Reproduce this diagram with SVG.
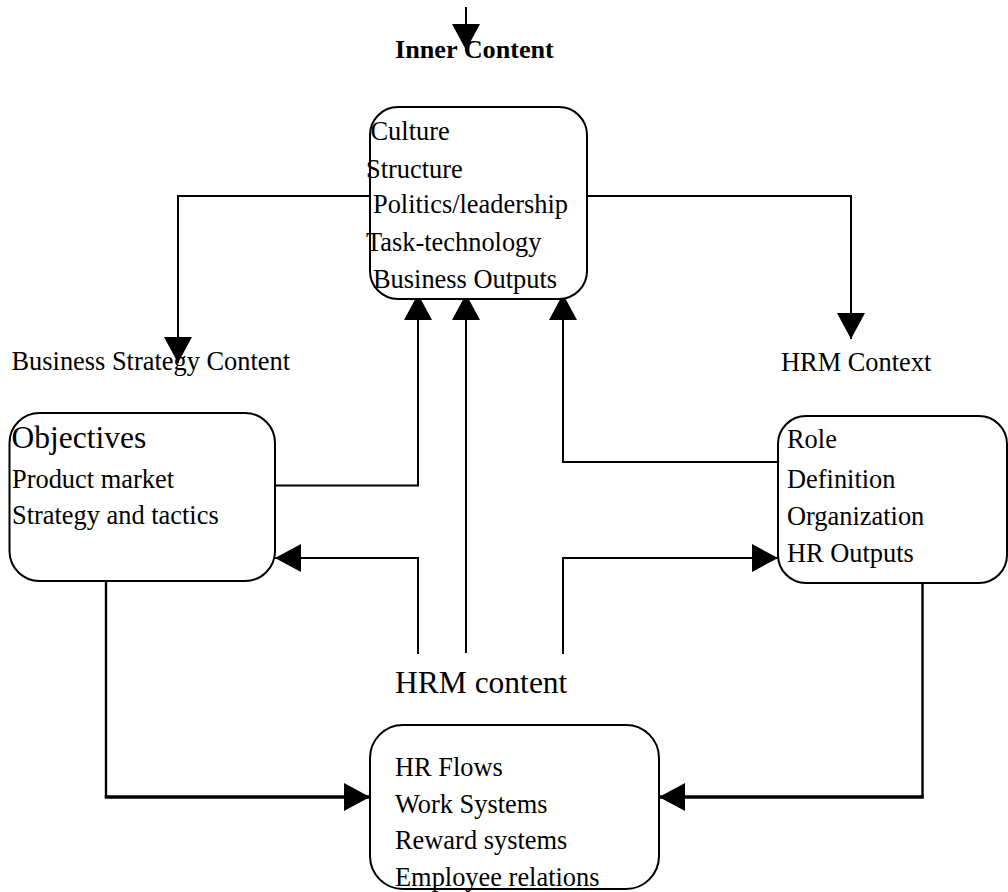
<svg xmlns="http://www.w3.org/2000/svg" width="1008" height="892" viewBox="0 0 1008 892">
<style>
.box{fill:#fff;stroke:#000;stroke-width:2}
.t{font-family:"Liberation Serif","Times New Roman",serif;font-size:26.4px;fill:#000}
.big{font-size:31.5px}
.b{font-weight:bold;font-size:26.2px}
.c{fill:none;stroke:#000;stroke-width:2}
.mid{stroke-width:2.4}
.thick{stroke-width:3.4}
</style>
<defs>
<marker id="ah" markerUnits="userSpaceOnUse" markerWidth="26" markerHeight="28" refX="26" refY="14" orient="auto" viewBox="0 0 26 28">
<path d="M0,0 L26,14 L0,28 Z" fill="#000"/>
</marker>
</defs>
<rect width="1008" height="892" fill="#fff"/>
<g id="connectors">
<path class="c" d="M466,7 V50" marker-end="url(#ah)"/>
<path class="c" d="M370,196 H178 V363" marker-end="url(#ah)"/>
<path class="c" d="M587,196 H851 V339" marker-end="url(#ah)"/>
<path class="c" d="M275,485.5 H418 V294" marker-end="url(#ah)"/>
<path class="c" d="M466,653 V294" marker-end="url(#ah)"/>
<path class="c" d="M778,462 H563 V294" marker-end="url(#ah)"/>
<path class="c" d="M418,654 V558 H275" marker-end="url(#ah)"/>
<path class="c" d="M563,654 V558 H778" marker-end="url(#ah)"/>
<path class="c mid" d="M106,581 V798"/>
<path class="c thick" d="M104.8,797 H370" marker-end="url(#ah)"/>
<path class="c mid" d="M922.5,583 V798"/>
<path class="c thick" d="M923.7,797 H659" marker-end="url(#ah)"/>
</g>
<g id="inner-content-label">
<text class="t b" x="395" y="58">Inner Content</text>
</g>
<g id="inner-content">
<rect class="box" x="370" y="107" width="217" height="192" rx="28" ry="28"/>
<text class="t" x="370.5" y="140">Culture</text>
<text class="t" x="366" y="178">Structure</text>
<text class="t" x="373" y="213">Politics/leadership</text>
<text class="t" x="366" y="250.5">Task-technology</text>
<text class="t" x="373" y="288">Business Outputs</text>
</g>
<g id="business-strategy-label">
<text class="t" x="11.5" y="370">Business Strategy Content</text>
</g>
<g id="hrm-context-label">
<text class="t" x="781" y="370.5">HRM Context</text>
</g>
<g id="business-strategy">
<rect class="box" x="9.5" y="413" width="265.5" height="168" rx="30" ry="30"/>
<text class="t big" x="11.5" y="448">Objectives</text>
<text class="t" x="12" y="488">Product market</text>
<text class="t" x="12" y="524">Strategy and tactics</text>
</g>
<g id="hrm-context">
<rect class="box" x="778" y="416" width="229" height="167" rx="28" ry="28"/>
<text class="t" x="787" y="448">Role</text>
<text class="t" x="787" y="488">Definition</text>
<text class="t" x="787" y="525">Organization</text>
<text class="t" x="787" y="562">HR Outputs</text>
</g>
<g id="hrm-content-label">
<text class="t big" x="395" y="692.5">HRM content</text>
</g>
<g id="hrm-content">
<rect class="box" x="370" y="725" width="289" height="164" rx="33" ry="33"/>
<text class="t" x="395" y="776">HR Flows</text>
<text class="t" x="395" y="812.5">Work Systems</text>
<text class="t" x="395" y="849">Reward systems</text>
<text class="t" x="395" y="886">Employee relations</text>
</g>
</svg>
